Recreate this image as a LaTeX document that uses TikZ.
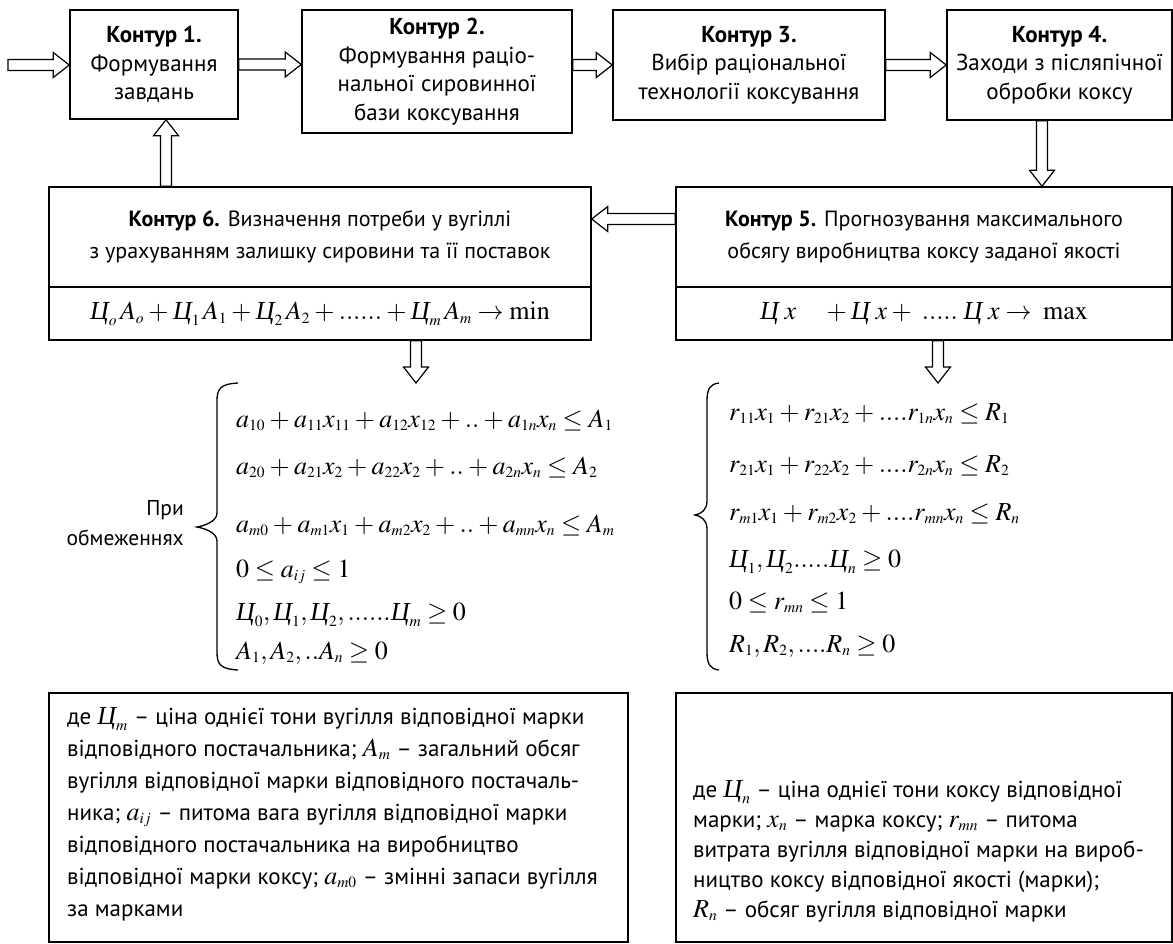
\documentclass[tikz,border=0pt]{standalone}
\usepackage{mathptmx}
\usepackage[no-math]{fontspec}
\setmainfont{PT Sans}
\newfontfamily\cyrserif{Liberation Serif}
\usetikzlibrary{calc}
\DeclareMathSizes{26}{26}{15.5}{11}
\medmuskip=3mu plus 2mu minus 3mu
\thickmuskip=4mu plus 4mu
\newcommand\Cy{\mbox{\cyrserif\itshape Ц}}
\newcommand\mth[1]{{\fontsize{26}{26}\selectfont$#1$}}
\newcommand\arsw{5.5pt}
\newcommand\arhw{12.5pt}
\newcommand\arhl{16pt}
\newcommand\arrR[2]{\draw[barrow] let \p1=#1, \p2=#2 in (\x1,\y1-\arsw) -- (\x2-\arhl,\y1-\arsw) -- (\x2-\arhl,\y1-\arhw) -- (\x2,\y1) -- (\x2-\arhl,\y1+\arhw) -- (\x2-\arhl,\y1+\arsw) -- (\x1,\y1+\arsw) -- cycle;}
\newcommand\arrL[2]{\draw[barrow] let \p1=#1, \p2=#2 in (\x1,\y1-\arsw) -- (\x2+\arhl,\y1-\arsw) -- (\x2+\arhl,\y1-\arhw) -- (\x2,\y1) -- (\x2+\arhl,\y1+\arhw) -- (\x2+\arhl,\y1+\arsw) -- (\x1,\y1+\arsw) -- cycle;}
\newcommand\arrU[2]{\draw[barrow] let \p1=#1, \p2=#2 in (\x1-\arsw,\y1) -- (\x1-\arsw,\y2-\arhl) -- (\x1-\arhw,\y2-\arhl) -- (\x1,\y2) -- (\x1+\arhw,\y2-\arhl) -- (\x1+\arsw,\y2-\arhl) -- (\x1+\arsw,\y1) -- cycle;}
\newcommand\arrD[2]{\draw[barrow] let \p1=#1, \p2=#2 in (\x1-\arsw,\y1) -- (\x1-\arsw,\y2+\arhl) -- (\x1-\arhw,\y2+\arhl) -- (\x1,\y2) -- (\x1+\arhw,\y2+\arhl) -- (\x1+\arsw,\y2+\arhl) -- (\x1+\arsw,\y1) -- cycle;}
\newcommand\bracepath[6]{(#1,#4) .. controls (#2+3,#4+1) and (#2,#4+6) .. (#2,#4+18) -- (#2,#5-14) .. controls (#2,#5-5) and (#3+6,#5-1) .. (#3,#5) .. controls (#3+6,#5+1) and (#2,#5+5) .. (#2,#5+14) -- (#2,#6-18) .. controls (#2,#6-6) and (#2+3,#6-1) .. (#1,#6)}
\begin{document}
\begin{tikzpicture}[x=1pt,y=-1pt,
  box/.style={draw, line width=1.5pt, inner sep=0pt, align=center, font=\fontsize{23}{28.5}\selectfont},
  midbox/.style={box, font=\fontsize{22}{31.5}\selectfont},
  fbox/.style={box, font=\fontsize{26}{30}\selectfont},
  barrow/.style={draw, fill=white, line width=1.2pt},
  eq/.style={anchor=base west, inner sep=0pt, font=\fontsize{26}{28}\selectfont},
  note/.style={anchor=base west, inner sep=0pt, font=\fontsize{23}{30}\selectfont},
  plain/.style={draw, line width=1.5pt, inner sep=0pt},
  brace/.style={line width=1.3pt}]
\useasboundingbox (0,0) rectangle (1173,944);
% top row
\node[box, minimum width=168pt, minimum height=109pt] (b1) at (154,64.5) {\textbf{Контур 1.}\\Формування\\завдань};
\node[box, minimum width=270pt, minimum height=123pt] (b2) at (437,71.5) {\textbf{Контур 2.}\\Формування раціо-\\нальної сировинної\\бази коксування};
\node[box, minimum width=272pt, minimum height=110pt] (b3) at (749,65) {\textbf{Контур 3.}\\Вибір раціональної\\технології коксування};
\node[box, minimum width=225pt, minimum height=110pt] (b4) at (1059.5,65) {\textbf{Контур 4.}\\Заходи з післяпічної\\обробки коксу};
% middle row
\node[midbox, minimum width=542pt, minimum height=100pt] (t6) at (320,237) {\textbf{Контур 6.} Визначення потреби у вугіллі\\з урахуванням залишку сировини та її поставок};
\node[fbox, minimum width=542pt, minimum height=53pt] (f6) at (320,313.5) {$\Cy_o\,A_o + \Cy_1\,A_1 + \Cy_2\,A_2 + ......+ \Cy_m\,A_m \to \min$};
\node[midbox, minimum width=496pt, minimum height=100pt] (t5) at (924,237) {\textbf{Контур 5.} Прогнозування максимального\\обсягу виробництва коксу заданої якості};
\node[fbox, minimum width=496pt, minimum height=53pt] (f5) at (924,313.5) {$\Cy\;x\quad + \Cy\;x + \;.....\; \Cy\;x \to\; \max$};
% helper coordinates
\coordinate (in) at (8,65);
\coordinate (x45) at (1042,0);
\coordinate (y56) at (0,219);
\coordinate (x61) at (166,0);
\coordinate (s6) at (416,383);
\coordinate (s5) at (938,383);
% arrows
\arrR{(in)}{(b1.west |- in)}
\arrR{(b1.east)}{(b2.west |- b1.east)}
\arrR{(b2.east |- b3.west)}{(b3.west)}
\arrR{(b3.east)}{(b4.west |- b3.east)}
\arrD{(b4.south -| x45)}{(t5.north -| x45)}
\arrL{(t5.west |- y56)}{(t6.east |- y56)}
\arrU{(t6.north -| x61)}{(b1.south -| x61)}
\arrD{(f6.south -| s6)}{(s6)}
\arrD{(f5.south -| s5)}{(s5)}
% left system
\node[anchor=east, align=right, inner sep=0pt, font=\fontsize{21.5}{30}\selectfont] (pr) at (184,523) {При\\обмеженнях};
\draw[brace] \bracepath{238}{217}{197}{383}{527}{670};
\node[eq] (l1) at (236,427) {$a_{10}+a_{11}x_{11}+a_{12}x_{12}+..+a_{1n}x_n\le A_1$};
\node[eq] (l2) at (236,474) {$a_{20}+a_{21}x_{2}+a_{22}x_{2}+..+a_{2n}x_n\le A_2$};
\node[eq] (l3) at (236,532) {$a_{m0}+a_{m1}x_{1}+a_{m2}x_{2}+..+a_{mn}x_n\le A_m$};
\node[eq] (l4) at (236,577) {$0\le a_{ij}\le 1$};
\node[eq] (l5) at (236,620) {$\Cy_0,\Cy_1,\Cy_2,......\Cy_m\ge 0$};
\node[eq] (l6) at (236,659) {$A_1,A_2,..A_n\ge 0$};
% right system
\draw[brace] \bracepath{719}{707}{695}{383}{515}{670};
\node[eq] (r1) at (729,420) {$r_{11}x_1+r_{21}x_2+....r_{1n}x_n\le R_1$};
\node[eq] (r2) at (729,472) {$r_{21}x_1+r_{22}x_2+....r_{2n}x_n\le R_2$};
\node[eq] (r3) at (729,520) {$r_{m1}x_1+r_{m2}x_2+....r_{mn}x_n\le R_n$};
\node[eq] (r4) at (729,567) {$\Cy_1,\Cy_2.....\Cy_n\ge 0$};
\node[eq] (r5) at (729,609) {$0\le r_{mn}\le 1$};
\node[eq] (r6) at (729,652) {$R_1,R_2,....R_n\ge 0$};
% bottom boxes
\node[plain, minimum width=579pt, minimum height=249pt] (n6) at (338.5,817.5) {};
\node[plain, minimum width=496pt, minimum height=249pt] (n5) at (924,817.5) {};
\node[note] (n6a) at (67,724) {де \mth{\Cy_m} – ціна однієї тони вугілля відповідної марки};
\node[note] (n6b) at (67,756) {відповідного постачальника; \mth{A_m} – загальний обсяг};
\node[note] (n6c) at (67,788) {вугілля відповідної марки відповідного постачаль-};
\node[note] (n6d) at (67,820) {ника; \mth{a_{ij}} – питома вага вугілля відповідної марки};
\node[note] (n6e) at (67,852) {відповідного постачальника на виробництво};
\node[note] (n6f) at (67,884) {відповідної марки коксу; \mth{a_{m0}} – змінні запаси вугілля};
\node[note] (n6g) at (67,916) {за марками};
\node[note] (n5a) at (693,797) {де \mth{\Cy_n} – ціна однієї тони коксу відповідної};
\node[note] (n5b) at (693,827) {марки; \mth{x_n} – марка коксу; \mth{r_{mn}} – питома};
\node[note] (n5c) at (693,857) {витрата вугілля відповідної марки на вироб-};
\node[note] (n5d) at (693,887) {ництво коксу відповідної якості (марки);};
\node[note] (n5e) at (693,917) {\mth{R_n} – обсяг вугілля відповідної марки};
\end{tikzpicture}
\end{document}
